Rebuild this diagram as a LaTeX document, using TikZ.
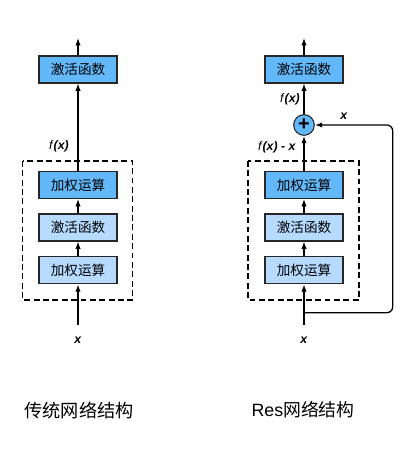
\documentclass[tikz,border=0pt]{standalone}
\usepackage{fontspec}
\setmainfont{Liberation Sans}
\newfontfamily\cjk{Noto Sans CJK SC}
\usetikzlibrary{arrows.meta,positioning}

\definecolor{blkdark}{HTML}{63B8FA}
\definecolor{blklight}{HTML}{B6DBFF}

\newcommand{\fx}{\textit{f}\textbf{\textit{(x)}}}
\newcommand{\vx}{\textbf{\textit{x}}}

\begin{document}
\begin{tikzpicture}[x=0.03cm,y=-0.03cm,>={Latex[length=2.2mm,width=1.6mm]},
  layer/.style={draw=black!85,line width=0.9pt,minimum width=2.34cm,minimum height=0.81cm,inner sep=0pt,font=\cjk\fontsize{11.6}{13}\selectfont},
  dark/.style={layer,fill=blkdark},
  light/.style={layer,fill=blklight},
  flow/.style={->,line width=1.1pt},
  lbl/.style={font=\fontsize{10.5}{12}\selectfont},
  captxt/.style={font=\cjk\fontsize{15.5}{18}\selectfont}]
\useasboundingbox (0,0) rectangle (415,453);

% traditional block
\node[dark] (l_act) at (78,69.5) {激活函数};
\node[dark] (l_w2) at (78,185) {加权运算};
\node[light] (l_a) at (78,227.5) {激活函数};
\node[light] (l_w1) at (78,270.3) {加权运算};
\coordinate (l_in) at (78,325);
\coordinate (l_out) at (78,38);
\draw[dashed,line width=0.9pt,dash pattern=on 5pt off 3pt] (22.7,161) rectangle (132.7,300);
\draw[flow] (l_in)--(l_w1.south);
\draw[flow] (l_w1.north)--(l_a.south);
\draw[flow] (l_a.north)--(l_w2.south);
\draw[flow] (l_w2.north)--(l_act.south);
\draw[flow] (l_act.north)--(l_out);
\node[lbl] (l_fx) at (59,146) {\fx};
\node[lbl] (l_x) at (78,340) {\vx};
\node[captxt] (l_cap) at (79,410) {传统网络结构};

% residual block
\node[dark] (r_act) at (304,69.5) {激活函数};
\node[draw=black!85,line width=0.9pt,circle,fill=blkdark,minimum size=0.62cm,inner sep=0pt,font=\bfseries\fontsize{17}{17}\selectfont] (r_add) at (304,125) {+};
\node[dark] (r_w2) at (304,185) {加权运算};
\node[light] (r_a) at (304,227.5) {激活函数};
\node[light] (r_w1) at (304,270.3) {加权运算};
\coordinate (r_in) at (304,325);
\coordinate (r_out) at (304,38);
\coordinate (r_split) at (304,312.7);
\coordinate (r_turn) at (392.7,125);
\draw[dashed,line width=0.9pt,dash pattern=on 5pt off 3pt] (248,161) rectangle (359,300);
\draw[flow] (r_in)--(r_w1.south);
\draw[flow] (r_w1.north)--(r_a.south);
\draw[flow] (r_a.north)--(r_w2.south);
\draw[flow] (r_w2.north)--(r_add.south);
\draw[flow] (r_add.north)--(r_act.south);
\draw[flow] (r_act.north)--(r_out);
\draw[flow,rounded corners=5pt] (r_split) -| (r_turn) -- (r_add.east);
\node[lbl] (r_fx) at (290,99) {\fx};
\node[lbl] (r_fxx) at (277,147) {\fx\ \textbf{-} \vx};
\node[lbl] (r_skip) at (344,116) {\vx};
\node[lbl] (r_x) at (304,340) {\vx};
\node[font=\fontsize{15.2}{18}\selectfont] (r_cap) at (303,410) {Res{\cjk 网络结构}};
\end{tikzpicture}
\end{document}
